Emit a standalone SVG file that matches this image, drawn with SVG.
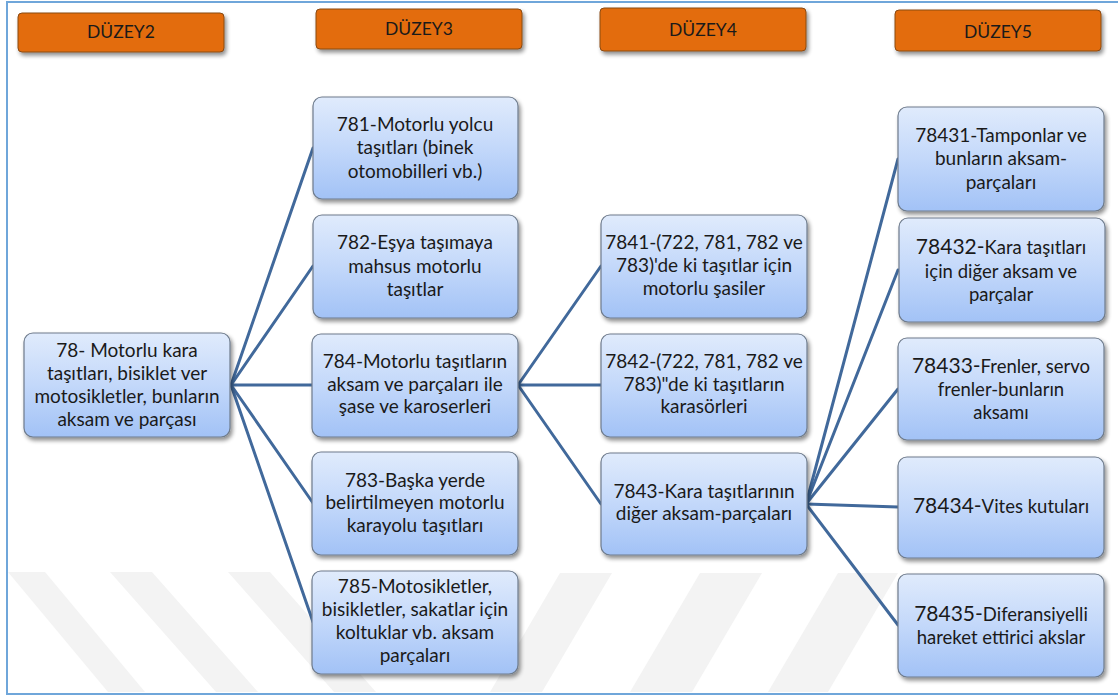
<svg xmlns="http://www.w3.org/2000/svg" width="1118" height="697" viewBox="0 0 1118 697">
<defs>
  <linearGradient id="nodeGrad" x1="0" y1="0" x2="0" y2="1">
    <stop offset="0" stop-color="#e0ebfc"/>
    <stop offset="0.5" stop-color="#c3d8fa"/>
    <stop offset="1" stop-color="#a2c2f6"/>
  </linearGradient>
  <filter id="shadow" x="-10%" y="-10%" width="130%" height="130%">
    <feGaussianBlur in="SourceAlpha" stdDeviation="2"/>
    <feOffset dx="2" dy="3" result="b"/>
    <feComponentTransfer><feFuncA type="linear" slope="0.45"/></feComponentTransfer>
    <feMerge><feMergeNode/><feMergeNode in="SourceGraphic"/></feMerge>
  </filter>
  <style>
    .hdr { fill: #e36c0a; stroke: #8a4a14; stroke-width: 1; }
    .hdrt { font-family: Lato, "Open Sans", sans-serif; font-size: 17.5px; fill: #1a1a1a; text-anchor: middle; }
    .node { fill: url(#nodeGrad); stroke: #6e7b8c; stroke-width: 1.2; }
    .nt { font-family: Lato, "Open Sans", sans-serif; font-size: 19px; fill: #1a1a1a; text-anchor: middle; }
    .big { font-size: 21px; }
    .sm { font-size: 18.5px; }
    .conn { stroke: #41699b; stroke-width: 3; fill: none; stroke-linecap: round; }
    .wm { fill: #f3f3f3; }
  </style>
</defs>
<rect x="0" y="0" width="1118" height="697" fill="#ffffff"/>
<g id="watermark">
  <polygon class="wm" points="8,572 45,572 145,692 108,692"/>
  <polygon class="wm" points="110,572 152,572 258,692 216,692"/>
  <polygon class="wm" points="228,572 270,572 376,692 334,692"/>
  <polygon class="wm" points="560,573 612,573 542,692 490,692"/>
  <polygon class="wm" points="700,573 762,573 692,692 630,692"/>
  <polygon class="wm" points="838,573 898,573 828,692 768,692"/>
</g>
<rect x="7" y="2" width="1120" height="692" fill="none" stroke="#6fa6da" stroke-width="2"/>

<g id="connectors">
  <line class="conn" x1="231" y1="385" x2="313" y2="148"/>
  <line class="conn" x1="231" y1="385" x2="313" y2="266"/>
  <line class="conn" x1="231" y1="385" x2="313" y2="385"/>
  <line class="conn" x1="231" y1="385" x2="313" y2="503"/>
  <line class="conn" x1="231" y1="385" x2="313" y2="622"/>
  <line class="conn" x1="518" y1="385" x2="601" y2="266"/>
  <line class="conn" x1="518" y1="385" x2="601" y2="385"/>
  <line class="conn" x1="518" y1="385" x2="601" y2="504"/>
  <line class="conn" x1="806" y1="504" x2="898" y2="159"/>
  <line class="conn" x1="806" y1="504" x2="898" y2="270"/>
  <line class="conn" x1="806" y1="504" x2="898" y2="389"/>
  <line class="conn" x1="806" y1="504" x2="898" y2="507"/>
  <line class="conn" x1="806" y1="504" x2="898" y2="625"/>
</g>

<g id="hdr2"><rect class="hdr" x="18" y="13" width="206" height="39" rx="4" filter="url(#shadow)"/>
<text class="hdrt" x="121" y="38">DÜZEY2</text></g>
<g id="hdr3"><rect class="hdr" x="316" y="9" width="206" height="40" rx="4" filter="url(#shadow)"/>
<text class="hdrt" x="419" y="35">DÜZEY3</text></g>
<g id="hdr4"><rect class="hdr" x="600" y="8" width="206" height="43" rx="4" filter="url(#shadow)"/>
<text class="hdrt" x="703" y="36">DÜZEY4</text></g>
<g id="hdr5"><rect class="hdr" x="895" y="10" width="206" height="41" rx="4" filter="url(#shadow)"/>
<text class="hdrt" x="998" y="38">DÜZEY5</text></g>

<g id="n78">
  <rect class="node" x="24" y="333" width="206" height="104" rx="9" filter="url(#shadow)"/>
  <text class="nt" x="127" y="357">78- Motorlu kara</text>
  <text class="nt" x="127" y="380">taşıtları, bisiklet ver</text>
  <text class="nt" x="127" y="403">motosikletler, bunların</text>
  <text class="nt" x="127" y="426">aksam ve parçası</text>
</g>

<g id="n781">
  <rect class="node" x="313" y="97" width="205" height="102" rx="9" filter="url(#shadow)"/>
  <text class="nt" x="415" y="131">781-Motorlu yolcu</text>
  <text class="nt" x="415" y="154">taşıtları (binek</text>
  <text class="nt" x="415" y="178">otomobilleri vb.)</text>
</g>
<g id="n782">
  <rect class="node" x="313" y="215" width="205" height="103" rx="9" filter="url(#shadow)"/>
  <text class="nt" x="415" y="249">782-Eşya taşımaya</text>
  <text class="nt" x="415" y="273">mahsus motorlu</text>
  <text class="nt" x="415" y="296">taşıtlar</text>
</g>
<g id="n784">
  <rect class="node" x="312" y="334" width="206" height="103" rx="9" filter="url(#shadow)"/>
  <text class="nt" x="415" y="368">784-Motorlu taşıtların</text>
  <text class="nt" x="415" y="391">aksam ve parçaları ile</text>
  <text class="nt" x="415" y="413">şase ve  karoserleri</text>
</g>
<g id="n783">
  <rect class="node" x="312" y="452" width="206" height="103" rx="9" filter="url(#shadow)"/>
  <text class="nt" x="415" y="487">783-Başka yerde</text>
  <text class="nt" x="415" y="509">belirtilmeyen motorlu</text>
  <text class="nt" x="415" y="532">karayolu taşıtları</text>
</g>
<g id="n785">
  <rect class="node" x="312" y="571" width="206" height="103" rx="9" filter="url(#shadow)"/>
  <text class="nt" x="415" y="593">785-Motosikletler,</text>
  <text class="nt" x="415" y="616">bisikletler, sakatlar için</text>
  <text class="nt" x="415" y="639">koltuklar vb.  aksam</text>
  <text class="nt" x="415" y="662">parçaları</text>
</g>

<g id="n7841">
  <rect class="node" x="601" y="215" width="206" height="103" rx="9" filter="url(#shadow)"/>
  <text class="nt" x="704" y="249">7841-(722, 781, 782 ve</text>
  <text class="nt" x="704" y="272">783)'de ki taşıtlar için</text>
  <text class="nt" x="704" y="295">motorlu şasiler</text>
</g>
<g id="n7842">
  <rect class="node" x="601" y="334" width="206" height="103" rx="9" filter="url(#shadow)"/>
  <text class="nt" x="704" y="368">7842-(722, 781, 782 ve</text>
  <text class="nt" x="704" y="391">783)"de ki taşıtların</text>
  <text class="nt" x="704" y="413">karasörleri</text>
</g>
<g id="n7843">
  <rect class="node" x="601" y="453" width="206" height="102" rx="9" filter="url(#shadow)"/>
  <text class="nt" x="704" y="498">7843-Kara taşıtlarının</text>
  <text class="nt" x="704" y="520">diğer aksam-parçaları</text>
</g>

<g id="n78431">
  <rect class="node" x="898" y="107" width="206" height="104" rx="9" filter="url(#shadow)"/>
  <text class="nt" x="1001" y="142">78431-Tamponlar ve</text>
  <text class="nt" x="1001" y="165">bunların aksam-</text>
  <text class="nt" x="1001" y="189">parçaları</text>
</g>
<g id="n78432">
  <rect class="node" x="899" y="218" width="206" height="104" rx="9" filter="url(#shadow)"/>
  <text class="nt" x="1001" y="254"><tspan class="big">78432-</tspan><tspan class="sm">Kara taşıtları</tspan></text>
  <text class="nt sm" x="1001" y="278">için diğer aksam ve</text>
  <text class="nt sm" x="1001" y="301">parçalar</text>
</g>
<g id="n78433">
  <rect class="node" x="898" y="338" width="206" height="102" rx="9" filter="url(#shadow)"/>
  <text class="nt" x="1001" y="373"><tspan class="big">78433-</tspan><tspan class="sm">Frenler, servo</tspan></text>
  <text class="nt sm" x="1001" y="396">frenler-bunların</text>
  <text class="nt sm" x="1001" y="419">aksamı</text>
</g>
<g id="n78434">
  <rect class="node" x="898" y="457" width="206" height="101" rx="9" filter="url(#shadow)"/>
  <text class="nt" x="1001" y="513"><tspan class="big">78434-</tspan><tspan class="sm">Vites kutuları</tspan></text>
</g>
<g id="n78435">
  <rect class="node" x="898" y="574" width="206" height="103" rx="9" filter="url(#shadow)"/>
  <text class="nt" x="1001" y="621"><tspan class="big">78435-</tspan><tspan class="sm">Diferansiyelli</tspan></text>
  <text class="nt sm" x="1001" y="644">hareket ettirici akslar</text>
</g>
</svg>
